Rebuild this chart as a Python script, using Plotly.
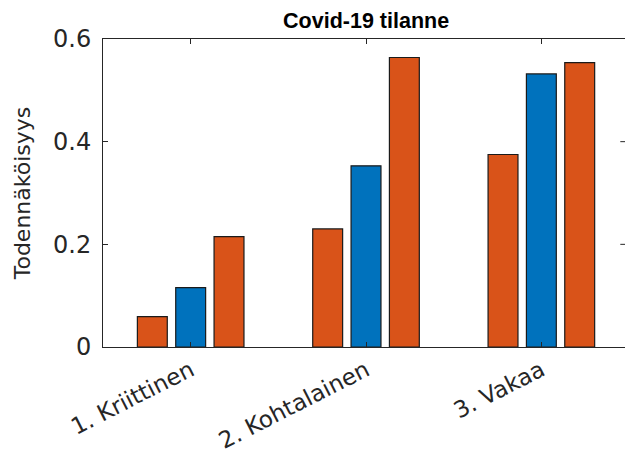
import plotly.graph_objects as go

# Category labels and the three bar series (probabilities)
categories = ["1. Kriittinen", "2. Kohtalainen", "3. Vakaa"]
series_a = [0.059, 0.230, 0.375]
series_b = [0.1155, 0.353, 0.532]
series_c = [0.215, 0.564, 0.554]

y_ticks = [0, 0.2, 0.4, 0.6]
y_tick_text = ["0", "0.2", "0.4", "0.6"]

ORANGE = "#D95319"
BLUE = "#0072BD"
AXIS = "#262626"
FONT = "DejaVu Sans, Verdana, sans-serif"
TITLE_FONT = "Liberation Sans, Arial, sans-serif"

fig = go.Figure()
for vals, color in [(series_a, ORANGE), (series_b, BLUE), (series_c, ORANGE)]:
    fig.add_trace(go.Bar(
        x=categories, y=vals,
        marker=dict(color=color, line=dict(color="#1a1a1a", width=1.2)),
        showlegend=False,
    ))

# small inward ticks on the right side of the box
shapes = []
for v in y_ticks[1:3]:
    shapes.append(dict(type="line", xref="paper", yref="y",
                       x0=0.991, x1=1.0, y0=v, y1=v,
                       line=dict(color=AXIS, width=1)))

fig.update_layout(
    width=625, height=459,
    margin=dict(l=103, r=0, t=39, b=112),
    paper_bgcolor="white", plot_bgcolor="white",
    barmode="group", bargap=0.344, bargroupgap=0.22,
    font=dict(family=FONT, color=AXIS),
    title=dict(text="<b>Covid-19 tilanne</b>", x=0.504, xref="paper",
               xanchor="center", y=1 - 20 / 459, yanchor="middle",
               font=dict(size=21.5, color="black", family=TITLE_FONT)),
    shapes=shapes,
    xaxis=dict(
        range=[-0.5, 2.477], showline=True, linecolor=AXIS, linewidth=1,
        mirror="ticks", ticks="inside", ticklen=5, tickcolor=AXIS,
        tickangle=-27, tickfont=dict(size=23, color=AXIS, family=FONT),
        showgrid=False,
    ),
    yaxis=dict(
        range=[0, 0.6], tickvals=y_ticks, ticktext=y_tick_text,
        showline=True, linecolor=AXIS, linewidth=1,
        ticks="inside", ticklen=5, tickcolor=AXIS,
        tickfont=dict(size=24, color=AXIS, family=FONT),
        ticklabelstandoff=6,
        showgrid=False, zeroline=False,
        title=dict(text="Todennäköisyys", font=dict(size=22, color=AXIS, family=FONT),
                   standoff=16),
    ),
)

fig.write_html("out.html")
